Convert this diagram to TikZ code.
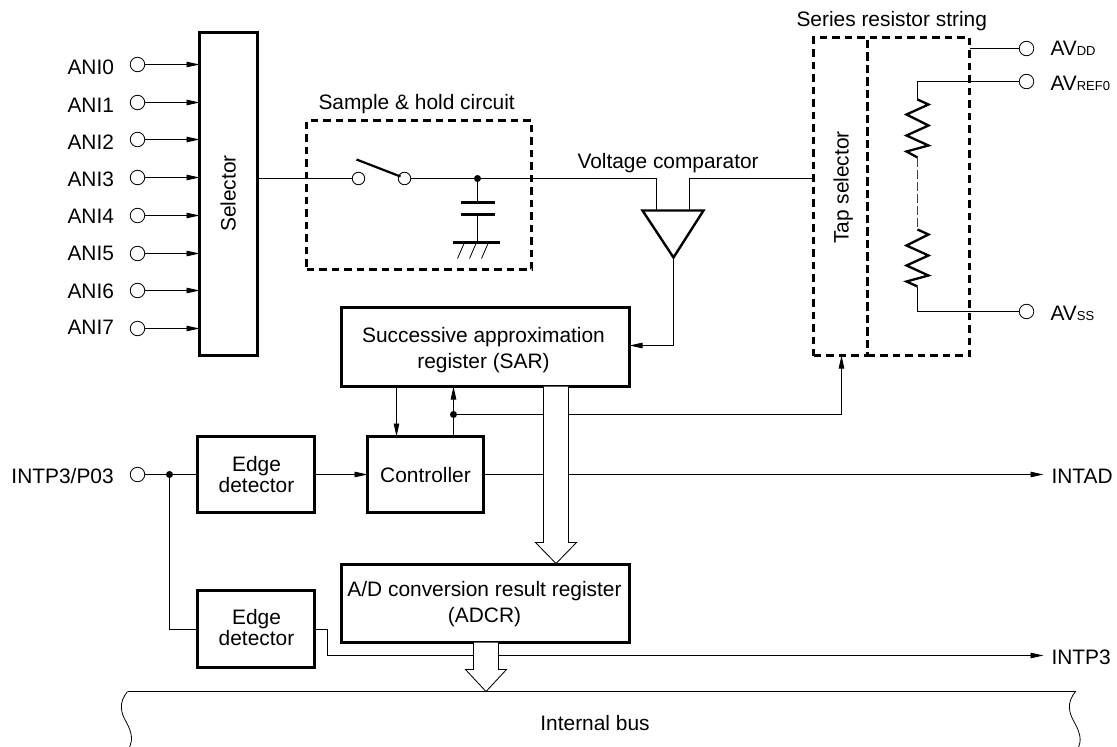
\documentclass[tikz,border=0pt]{standalone}
\usepackage{fontspec}
\setmainfont{Liberation Sans}
\usetikzlibrary{arrows.meta,calc}
\newcommand{\smallsub}[1]{{\fontsize{13}{13}\selectfont #1}}
\tikzset{
  wire/.style={line width=0.85pt,line cap=butt},
  sig/.style={wire,-{Stealth[length=13pt,width=5.5pt,inset=0pt]}},
  blk/.style={draw,line width=2.8pt,outer sep=0pt,inner sep=0pt,rectangle},
  dashbox/.style={draw,line width=2.6pt,dash pattern=on 7.5pt off 5pt,outer sep=0pt,inner sep=0pt,rectangle},
  terminal/.style={draw,circle,line width=0.8pt,fill=white,minimum size=14.5pt,inner sep=0pt,outer sep=0pt},
  smallterm/.style={terminal,minimum size=12.5pt},
  junction/.style={circle,fill=black,minimum size=7pt,inner sep=0pt,outer sep=0pt},
  txt/.style={inner sep=0pt,outer sep=0pt,font=\fontsize{20.9}{26}\selectfont,align=center},
  edgetxt/.style={txt,font=\fontsize{20.9}{21}\selectfont},
  lbl/.style={inner sep=0pt,outer sep=0pt,font=\fontsize{20.9}{26}\selectfont,anchor=base west},
  thickzig/.style={line width=2.3pt,line join=miter},
  plate/.style={line width=2.4pt},
  bigarrow/.style={line width=0.85pt,fill=white,line join=miter},
}
\begin{document}
\begin{tikzpicture}[x=1pt,y=-1pt]
\useasboundingbox (0,0) rectangle (1117,747);
\begin{scope}[shift={(0.5,0.5)}]
% blocks
\node[blk,minimum width=58pt,minimum height=323pt] (sel) at (228,193.5) {};
\node[rotate=90,anchor=base,inner sep=0pt,outer sep=0pt,font=\fontsize{20.9}{26}\selectfont] (seltxt) at (235,193) {Selector};
\node[blk,minimum width=288pt,minimum height=79pt] (sar) at (485,346.5) {};
\node[txt] (sartxt) at (483,349.5) {Successive approximation\\register (SAR)};
\node[blk,minimum width=117pt,minimum height=76pt] (ed1) at (255.5,474) {};
\node[edgetxt] (ed1txt) at (256,474) {Edge\\detector};
\node[blk,minimum width=116pt,minimum height=76pt] (ctl) at (425,474) {};
\node[txt] (ctltxt) at (425,474.5) {Controller};
\node[blk,minimum width=117pt,minimum height=77pt] (ed2) at (255.5,628.5) {};
\node[edgetxt] (ed2txt) at (256,627) {Edge\\detector};
\node[blk,minimum width=288pt,minimum height=78pt] (adcr) at (485,603) {};
\node[txt] (adcrtxt) at (484,604) {A/D conversion result register\\(ADCR)};
% dashed groups
\node[dashbox,minimum width=225pt,minimum height=149pt] (sh) at (418.5,194.5) {};
\node[dashbox,minimum width=54pt,minimum height=318pt] (tap) at (840,196) {};
\node[dashbox,minimum width=102pt,minimum height=318pt] (srs) at (918,196) {};
\node[rotate=90,anchor=base,inner sep=0pt,outer sep=0pt,font=\fontsize{20.9}{26}\selectfont] (taptxt) at (848,187) {Tap selector};
% group captions
\node[lbl] (shcap) at (318,109) {Sample \& hold circuit};
\node[lbl] (vccap) at (577,168) {Voltage comparator};
\node[lbl] (srcap) at (796,26) {Series resistor string};
% analogue inputs
\foreach \n/\y/\b in {0/64/74,1/102/112,2/139/149,3/177/186,4/215/223,5/253/260,6/290/298,7/328/334}{
  \node[terminal] (ani\n) at (137,\y) {};
  \draw[sig] (ani\n) -- (sel.west |- ani\n);
  \node[lbl] (anil\n) at (67,\b) {ANI\n};
}
% switch and capacitor
\node[smallterm] (sw1) at (358,178) {};
\node[smallterm] (sw2) at (404,178) {};
\node[junction] (j1) at (477,178) {};
\coordinate (cap1) at (477,202);
\coordinate (cap2) at (477,214);
\coordinate (gnd) at (477,242);
\coordinate (arm) at (356,159);
\coordinate (armend) at (400,176);
\draw[wire] (sel.east |- sw1) -- (sw1);
\draw[wire] (sw2) -- (j1);
\draw[line width=2.2pt] (arm) -- (armend);
\draw[wire] (j1) -- (cap1);
\draw[wire] (cap2) -- (gnd);
\draw[plate] ($(cap1)+(-17,0)$) -- ($(cap1)+(17,0)$);
\draw[plate] ($(cap2)+(-17,0)$) -- ($(cap2)+(17,0)$);
\draw[line width=2.2pt] ($(gnd)+(-25,0)$) -- ($(gnd)+(22,0)$);
\draw[line width=0.8pt] ($(gnd)+(-13,0)$) -- ++(-7,16);
\draw[line width=0.8pt] ($(gnd)+(-1,0)$) -- ++(-7,16);
\draw[line width=0.8pt] ($(gnd)+(11,0)$) -- ++(-7,16);
% comparator
\coordinate (cmpl) at (656,210);
\coordinate (cmpr) at (689,210);
\coordinate (cmpo) at (673,257);
\draw[wire] (j1) -| (cmpl);
\draw[wire] (cmpr) |- (tap.west |- j1);
\draw[line width=2.4pt,line join=miter,fill=white] (642,210) -- (703,210) -- (cmpo) -- cycle;
\draw[sig] (cmpo) |- (sar.east |- 0,345);
% SAR / controller
\coordinate (c1) at (396,386);
\coordinate (c2) at (453,386);
\node[junction] (j2) at (453,414) {};
\draw[sig] (c1) -- (c1 |- ctl.north);
\draw[wire] (c2 |- ctl.north) -- (j2);
\draw[sig] (j2) -- (c2);
\coordinate (tapin) at (841,355);
\draw[sig] (j2) -| (tapin);
\draw[sig] (ctl.east) -- (1043,474) coordinate (intad);
\node[lbl] (intadl) at (1051,483) {INTAD};
% interrupt input
\node[terminal] (intp) at (137,474) {};
\node[lbl] (intpl) at (11,483) {INTP3/P03};
\node[junction] (j3) at (169,474) {};
\draw[wire] (intp) -- (j3);
\draw[wire] (j3) -- (ed1.west);
\draw[sig] (ed1.east) -- (ctl.west);
\draw[wire] (j3) |- (ed2.west);
\coordinate (bend) at (327,655);
\draw[sig] (ed2.east) -| (bend) -- (1043,655) coordinate (intp3);
\node[lbl] (intp3l) at (1051,664) {INTP3};
% internal bus
\draw[wire] (127,691) -- (1075,691);
\draw[line width=0.8pt] (127,691) .. controls (118,702) and (120,712) .. (126,722) .. controls (132,733) and (132,740) .. (129,747);
\draw[line width=0.8pt] (1075,691) .. controls (1066,702) and (1068,712) .. (1074,722) .. controls (1080,733) and (1081,740) .. (1078,747);
\node[txt] (bus) at (594.5,723) {Internal bus};
% wide arrows
\coordinate (wa) at (555.5,386);
\coordinate (wat) at (555.5,563);
\draw[bigarrow] ($(wa)+(-12.5,0)$) -- ($(wat)+(-12.5,-21)$) -- ($(wat)+(-20.5,-21)$) -- (wat) -- ($(wat)+(20.5,-21)$) -- ($(wat)+(12.5,-21)$) -- ($(wa)+(12.5,0)$);
\coordinate (wb) at (485.5,642);
\coordinate (wbt) at (485.5,691);
\draw[bigarrow] ($(wb)+(-12.5,0)$) -- ($(wbt)+(-12.5,-22)$) -- ($(wbt)+(-20.5,-22)$) -- (wbt) -- ($(wbt)+(20.5,-22)$) -- ($(wbt)+(12.5,-22)$) -- ($(wb)+(12.5,0)$);
% resistor string
\node[terminal] (avdd) at (1026,48) {};
\node[terminal] (avref) at (1026,81) {};
\node[terminal] (avss) at (1026,311) {};
\draw[wire] (srs.east |- avdd) -- (avdd);
\coordinate (r1a) at (917,99);
\coordinate (r1b) at (917,157);
\coordinate (r2a) at (917,229);
\coordinate (r2b) at (917,286);
\draw[wire] (avref) -| (r1a);
\draw[thickzig] (r1a) -- (928,104) -- (906,114) -- (928,125) -- (906,135) -- (928,145) -- (906,151) -- (r1b);
\draw[line width=0.8pt,dash pattern=on 9pt off 3pt,black!75] (r1b) -- (r2a);
\draw[thickzig] (r2a) -- (928,234) -- (906,245) -- (928,255) -- (906,265) -- (928,275) -- (906,281) -- (r2b);
\draw[wire] (r2b) |- (avss);
\node[lbl] (avddl) at (1050,55) {AV\smallsub{DD}};
\node[lbl] (avrefl) at (1050,90) {AV\smallsub{REF0}};
\node[lbl] (avssl) at (1050,320) {AV\smallsub{SS}};
\end{scope}
\end{tikzpicture}
\end{document}
